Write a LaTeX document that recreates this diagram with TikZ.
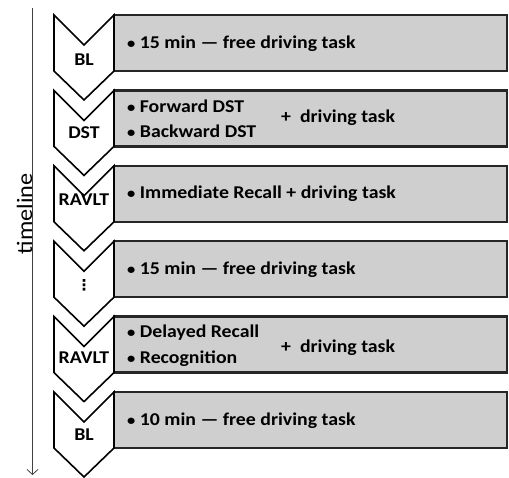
\documentclass[tikz,border=0pt]{standalone}
\usepackage{fontspec}
\setmainfont{Carlito}[FakeStretch=1.1]
\newfontfamily\symfont{DejaVu Sans}
\usetikzlibrary{arrows.meta}
\newcommand{\bul}{{\fontsize{15}{15}\selectfont•}}

\begin{document}
\begin{tikzpicture}[x=1pt,y=-1pt,
  chev/.style={draw=black,line width=1.6pt,fill=white,line join=miter},
  taskbox/.style={draw=black!85,line width=2.4pt,fill=black!19},
  lbl/.style={font=\bfseries\fontsize{18}{18}\selectfont,inner sep=0pt,anchor=base},
  txt/.style={font=\bfseries\fontsize{18}{18}\selectfont,inner sep=0pt,anchor=base west}]
\useasboundingbox (0,0) rectangle (509,477);
% timeline
\coordinate (ts) at (32.5,8); \coordinate (te) at (32.5,475);
\draw[black!75,line width=0.8pt,-{Straight Barb[length=5pt,width=11pt]}] (ts)--(te);
\node[rotate=90,font=\fontsize{22}{22}\selectfont,inner sep=0pt] (tl) at (24.5,214) {timeline};
% chevrons and boxes
\foreach \t in {15,90.4,165.8,241.2,316.6,392}{
  \draw[taskbox] (114,\t) rectangle (507,\t+56);
  \draw[chev] (54,\t)--(84,\t+30)--(114,\t)--(114,\t+56)--(84,\t+85)--(54,\t+56)--cycle;
}
% chevron labels
\node[lbl] (bla) at (84,65.8) {BL};
\node[lbl] (dst) at (84,138.8) {DST};
\node[lbl] (rva) at (84,205.8) {RAVLT};
\node[inner sep=0pt,font=\symfont\bfseries\fontsize{15}{15}\selectfont] (gap) at (84,285) {⋮};
\node[lbl] (rvb) at (84,363.8) {RAVLT};
\node[lbl] (blb) at (84,440.8) {BL};
% task texts
\node[txt] (ta) at (127,48.5) {\bul\ 15 min — free driving task};
\node[txt] (tba) at (127,112.5) {\bul\ Forward DST};
\node[txt] (tbb) at (127,137.5) {\bul\ Backward DST};
\node[txt] (tbc) at (281,122.5) {+~~driving task};
\node[txt] (tc) at (127,198.5) {\bul\ Immediate Recall + driving task};
\node[txt] (td) at (127,274.5) {\bul\ 15 min — free driving task};
\node[txt] (tea) at (127,337.5) {\bul\ Delayed Recall};
\node[txt] (teb) at (127,363.5) {\bul\ Recognition};
\node[txt] (tec) at (281,352.5) {+~~driving task};
\node[txt] (tf) at (127,425.5) {\bul\ 10 min — free driving task};
\end{tikzpicture}
\end{document}
